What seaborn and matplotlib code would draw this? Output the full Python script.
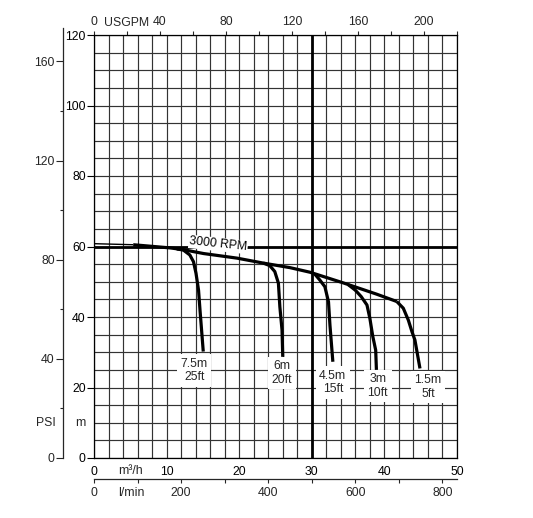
import numpy as np
import pandas as pd
import seaborn as sns
import matplotlib
matplotlib.use('Agg')
import matplotlib.pyplot as plt

sns.set_style('white')
plt.rcParams['font.family'] = ['Liberation Sans', 'DejaVu Sans']
plt.rcParams['font.size'] = 8.8

# pump curves: flow in m3/h, head in m
shutoff_q = [0.0, 5.4]
shutoff_h = [60.8, 60.5]

main_q = [5.4, 10.5, 12.3, 15.1, 19.7, 23.3, 27.0, 29.75, 34.3, 38.9, 41.7]
main_h = [60.5, 59.6, 59.1, 58.0, 56.7, 55.3, 54.0, 52.7, 49.7, 46.5, 44.4]

c75_q = [11.4, 12.3, 13.2, 13.7, 14.05, 14.4, 14.6, 15.05]
c75_h = [59.3, 59.0, 57.6, 55.7, 52.4, 47.6, 42.0, 30.2]

c60_q = [23.3, 24.2, 24.9, 25.4, 25.6, 25.9, 26.0]
c60_h = [55.3, 54.6, 52.9, 49.6, 42.9, 36.3, 28.7]

c45_q = [30.4, 31.1, 31.8, 32.3, 32.5, 32.9]
c45_h = [52.2, 50.5, 48.6, 44.3, 37.7, 27.3]

c30_q = [35.0, 36.0, 36.8, 37.6, 38.0, 38.4, 38.8, 38.9]
c30_h = [49.2, 47.6, 45.8, 43.4, 39.6, 34.5, 30.6, 25.0]

c15_q = [41.7, 42.6, 43.3, 43.8, 44.2, 44.9]
c15_h = [44.4, 42.5, 39.1, 35.8, 33.5, 25.4]

depth_labels = ['7.5m\n25ft', '6m\n20ft', '4.5m\n15ft', '3m\n10ft', '1.5m\n5ft']
label_q = [13.8, 25.9, 32.9, 39.1, 46.0]
label_h = [24.8, 24.1, 21.4, 20.4, 20.1]

frames = []
for name, q, h in [('shutoff', shutoff_q, shutoff_h), ('main', main_q, main_h),
                   ('7.5', c75_q, c75_h), ('6', c60_q, c60_h), ('4.5', c45_q, c45_h),
                   ('3', c30_q, c30_h), ('1.5', c15_q, c15_h)]:
    frames.append(pd.DataFrame({'curve': name, 'Q': q, 'H': h}))
df = pd.concat(frames, ignore_index=True)

fig = plt.figure(figsize=(5.33, 5.18), dpi=100)
ax = fig.add_axes([94 / 533, 1 - 458 / 518, 363 / 533, 423 / 518])
ax.set_xlim(0, 50)
ax.set_ylim(0, 120)

# grid
ax.set_xticks(np.arange(0, 51, 10))
ax.set_xticks(np.arange(0, 51, 2), minor=True)
ax.set_yticks(np.arange(0, 121, 20))
ax.set_yticks(np.arange(0, 121, 5), minor=True)
ax.grid(which='both', color='#333333', lw=0.85)
ax.tick_params(which='minor', length=0)
ax.tick_params(axis='x', which='major', direction='out', length=4, width=0.8, pad=2, colors='black')
ax.tick_params(axis='y', which='major', direction='out', length=5, width=0.8, pad=1, colors='black')
for s in ax.spines.values():
    s.set_color('black')
    s.set_linewidth(0.9)

ax.axvline(30, color='black', lw=2.0, zorder=2)
ax.axhline(60, color='black', lw=2.0, zorder=2)

for name, sub in df.groupby('curve', sort=False):
    lw = 1.0 if name == 'shutoff' else 2.3
    sns.lineplot(data=sub, x='Q', y='H', ax=ax, color='black', lw=lw,
                 sort=False, estimator=None, zorder=5, solid_capstyle='butt',
                 solid_joinstyle='round')
ax.set_xlabel('')
ax.set_ylabel('')

for txt, q, h in zip(depth_labels, label_q, label_h):
    ax.text(q, h, txt, ha='center', va='center', linespacing=1.15, zorder=4,
            bbox=dict(facecolor='white', edgecolor='none', pad=2.5))
ax.text(17.1, 60.6, '3000 RPM', ha='center', va='center', rotation=-6, zorder=4,
        color='black', bbox=dict(facecolor='white', edgecolor='none', pad=0.5))

# bottom labels
xt = ax.get_xaxis_transform()
ax.text(5.0, -0.030, 'm³/h', transform=xt, ha='center', va='center')
ax.text(5.1, -0.082, 'l/min', transform=xt, ha='center', va='center')

# l/min axis
lmin = ax.secondary_xaxis(-0.0496, functions=(lambda q: q * 1000 / 60, lambda l: l * 60 / 1000))
lmin.set_xticks([0, 200, 400, 600, 800])
lmin.set_xticks([100, 300, 500, 700], minor=True)
lmin.tick_params(which='both', direction='out', length=3, width=0.8, pad=3)
lmin.spines['bottom'].set_linewidth(0.9)

# USGPM axis
gpm = ax.secondary_xaxis('top', functions=(lambda q: q / 0.227125, lambda g: g * 0.227125))
gpm.set_xticks([0, 40, 80, 120, 160, 200])
gpm.set_xticks([20, 60, 100, 140, 180, 220], minor=True)
gpm.tick_params(which='both', direction='out', length=3, width=0.8, pad=2)
gpm.spines['top'].set_visible(False)
ax.text(0.091, 1.029, 'USGPM', transform=ax.transAxes, ha='center', va='center')

# PSI axis
ax2 = ax.twinx()
ax2.set_ylim(0, 120 / 0.70307)
ax2.yaxis.tick_left()
for k in ['right', 'top', 'bottom']:
    ax2.spines[k].set_visible(False)
ax2.spines['left'].set_visible(True)
ax2.spines['left'].set_position(('outward', 31 * 0.72))
ax2.spines['left'].set_bounds(0, 173.5)
ax2.spines['left'].set_linewidth(0.9)
ax2.set_yticks([0, 40, 80, 120, 160])
ax2.set_yticks([20, 60, 100, 140], minor=True)
ax2.tick_params(axis='y', which='major', direction='out', length=5, width=0.8, pad=1)
ax2.tick_params(axis='y', which='minor', direction='out', length=2.5, width=0.8)
ax2.grid(False)

yt = ax.get_yaxis_transform()
ax.text(-0.132, 10, 'PSI', transform=yt, ha='center', va='center')
ax.text(-0.0386, 10, 'm', transform=yt, ha='center', va='center')

fig.savefig('out.png', dpi=100)
